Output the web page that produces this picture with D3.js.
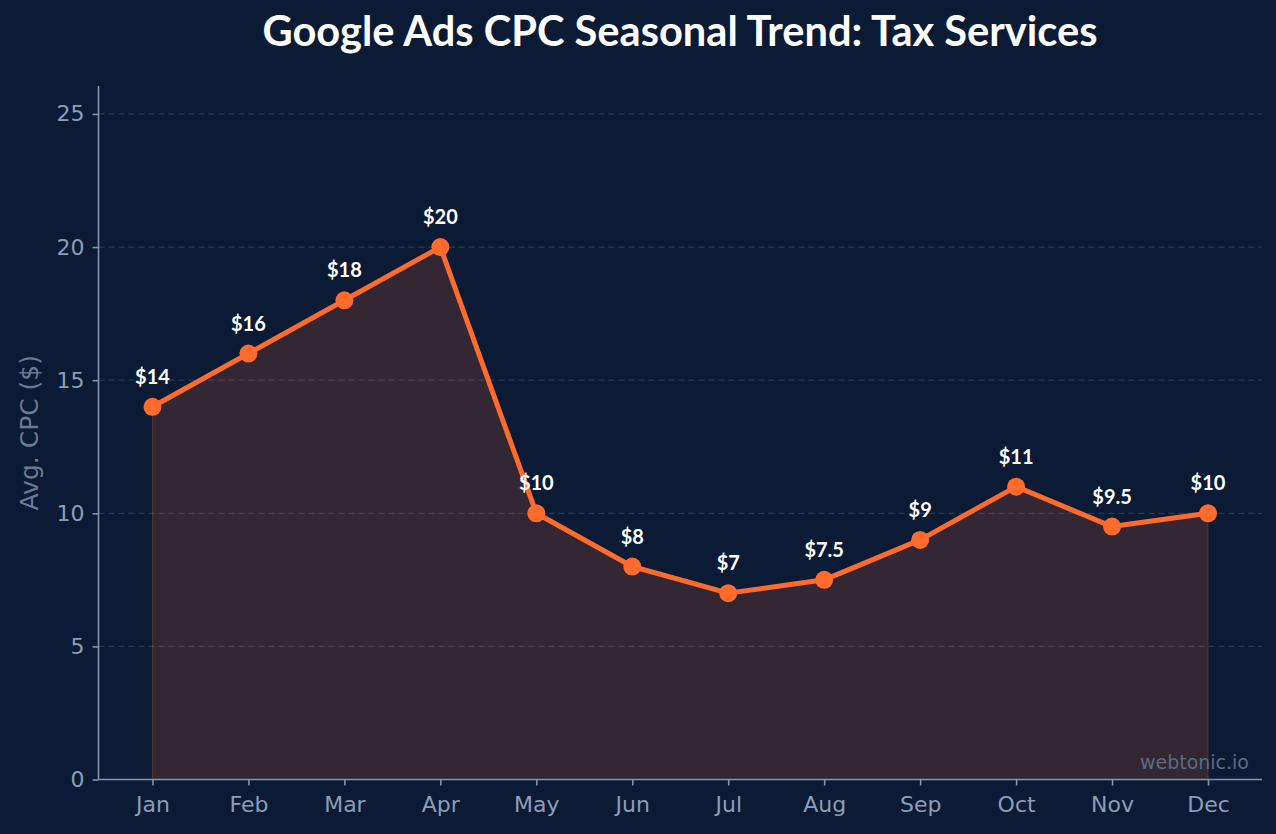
<!DOCTYPE html>
<html>
<head>
<meta charset="utf-8">
<script src="https://cdn.jsdelivr.net/npm/d3@7"></script>
<style>
  html, body { margin: 0; padding: 0; background: #0b1b35; }
  svg { display: block; }
</style>
</head>
<body>
<svg width="1276" height="834"></svg>
<script>
var months = ['Jan', 'Feb', 'Mar', 'Apr', 'May', 'Jun', 'Jul', 'Aug', 'Sep', 'Oct', 'Nov', 'Dec'];
var cpc = [14, 16, 18, 20, 10, 8, 7, 7.5, 9, 11, 9.5, 10];
var cpcLabels = ['$14', '$16', '$18', '$20', '$10', '$8', '$7', '$7.5', '$9', '$11', '$9.5', '$10'];
var yTicks = [0, 5, 10, 15, 20, 25];

var dataset = months.map(function(m, i) {
  return { i: i, month: m, value: cpc[i], label: cpcLabels[i] };
});

var svg = d3.select('svg');
var plotLeft = 98.5, plotRight = 1262, plotTop = 86, plotBottom = 779.5;

svg.append('rect')
  .attr('width', 1276).attr('height', 834)
  .attr('fill', '#0b1b35');

var xScale = d3.scaleLinear().domain([-0.5625, 11.5625]).range([plotLeft, plotRight]);
var yScale = d3.scaleLinear().domain([0, 26.05]).range([plotBottom, plotTop]);

// grid
svg.append('g')
  .selectAll('line')
  .data(yTicks.filter(d => d > 0))
  .enter()
  .append('line')
  .attr('x1', plotLeft).attr('x2', plotRight)
  .attr('y1', d => yScale(d)).attr('y2', d => yScale(d))
  .attr('stroke', '#2b3a55')
  .attr('stroke-width', 1.2)
  .attr('stroke-dasharray', '6,4');

// area
var area = d3.area()
  .x(d => xScale(d.i))
  .y0(yScale(0))
  .y1(d => yScale(d.value));

svg.append('path')
  .datum(dataset)
  .attr('d', area)
  .attr('fill', 'rgba(255,107,44,0.16)')
  .attr('stroke', 'rgba(255,107,44,0.25)')
  .attr('stroke-width', 1);

// axes
var xAxis = svg.append('g')
  .attr('transform', `translate(0, ${plotBottom})`)
  .call(d3.axisBottom(xScale).tickValues(d3.range(12)).tickFormat(i => months[i]).tickSize(6).tickSizeOuter(0).tickPadding(11));

var yAxis = svg.append('g')
  .attr('transform', `translate(${plotLeft}, 0)`)
  .call(d3.axisLeft(yScale).tickValues(yTicks).tickSize(6).tickSizeOuter(0).tickPadding(8));

[xAxis, yAxis].forEach(function(ax) {
  ax.select('.domain').attr('stroke', '#8494ab').attr('stroke-width', 1.6);
  ax.selectAll('.tick line').attr('stroke', '#8494ab').attr('stroke-width', 1.6);
  ax.selectAll('.tick text')
    .attr('fill', '#8d9db5')
    .attr('font-family', 'DejaVu Sans, sans-serif')
    .attr('font-size', '22px');
});
xAxis.select('.domain').attr('d', `M${plotLeft},0H${plotRight}`);
yAxis.select('.domain').attr('d', `M0,${plotTop}V${plotBottom}`);

// line
var line = d3.line()
  .x(d => xScale(d.i))
  .y(d => yScale(d.value));

svg.append('path')
  .datum(dataset)
  .attr('d', line)
  .attr('fill', 'none')
  .attr('stroke', '#ff6b2c')
  .attr('stroke-width', 5)
  .attr('stroke-linejoin', 'round');

svg.selectAll('circle.pt')
  .data(dataset)
  .enter()
  .append('circle')
  .attr('class', 'pt')
  .attr('cx', d => xScale(d.i))
  .attr('cy', d => yScale(d.value))
  .attr('r', 9)
  .attr('fill', '#ff6b2c');

svg.selectAll('text.val')
  .data(dataset)
  .enter()
  .append('text')
  .attr('class', 'val')
  .attr('x', d => xScale(d.i))
  .attr('y', d => yScale(d.value) - 23)
  .attr('text-anchor', 'middle')
  .attr('fill', '#ffffff')
  .attr('font-family', 'Lato, sans-serif')
  .attr('font-weight', 'bold')
  .attr('font-size', '20px')
  .text(d => d.label);

// title
svg.append('text')
  .attr('x', 680)
  .attr('y', 46)
  .attr('text-anchor', 'middle')
  .attr('fill', '#ffffff')
  .attr('font-family', 'Lato, sans-serif')
  .attr('font-weight', 'bold')
  .attr('font-size', '41.6px')
  .text('Google Ads CPC Seasonal Trend: Tax Services');

// y label
svg.append('text')
  .attr('transform', `translate(38, ${(plotTop + plotBottom) / 2}) rotate(-90)`)
  .attr('text-anchor', 'middle')
  .attr('fill', '#6b7a92')
  .attr('font-family', 'DejaVu Sans, sans-serif')
  .attr('font-size', '25px')
  .text('Avg. CPC ($)');

// watermark
svg.append('text')
  .attr('x', 1249)
  .attr('y', 769)
  .attr('text-anchor', 'end')
  .attr('fill', '#5d6a80')
  .attr('font-family', 'DejaVu Sans, sans-serif')
  .attr('font-size', '19px')
  .text('webtonic.io');
</script>
</body>
</html>
